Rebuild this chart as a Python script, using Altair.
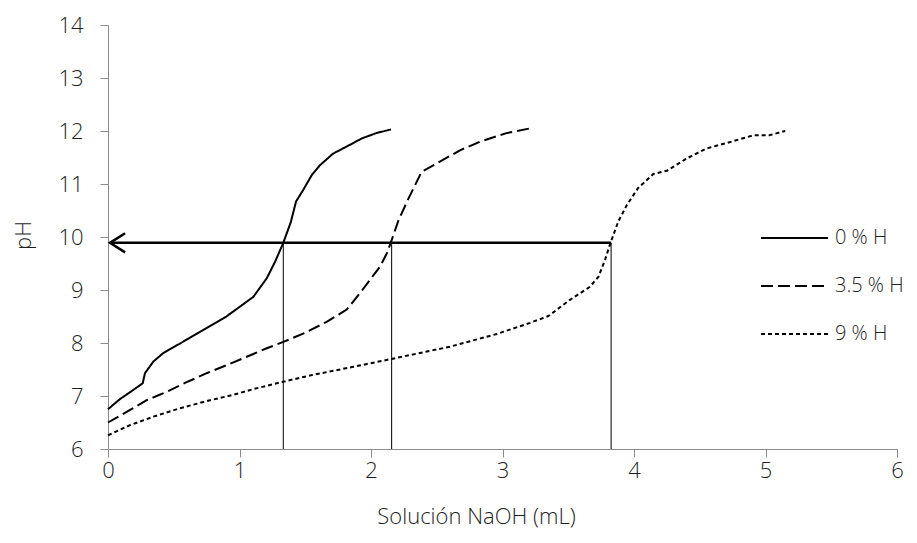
import altair as alt
import pandas as pd

series_names = ["0 % H", "3.5 % H", "9 % H"]

x_0 = [0, 0.09, 0.19, 0.264, 0.281, 0.345, 0.42, 0.548, 0.70, 0.90, 1.00, 1.105,
       1.207, 1.27, 1.333, 1.39, 1.43, 1.485, 1.55, 1.61, 1.71, 1.84, 1.93, 2.04, 2.152]
y_0 = [6.75, 6.94, 7.11, 7.24, 7.43, 7.65, 7.81, 7.99, 8.21, 8.50, 8.68, 8.87,
       9.22, 9.53, 9.89, 10.28, 10.67, 10.89, 11.17, 11.35, 11.57, 11.74, 11.86, 11.96, 12.03]

x_35 = [0, 0.142, 0.294, 0.446, 0.598, 0.75, 0.90, 1.055, 1.207, 1.333, 1.498, 1.663,
        1.815, 1.916, 2.068, 2.12, 2.157, 2.21, 2.28, 2.385, 2.50, 2.68, 2.83, 3.03, 3.21]
y_35 = [6.50, 6.70, 6.92, 7.08, 7.26, 7.43, 7.58, 7.74, 7.90, 8.02, 8.19, 8.40,
        8.63, 8.94, 9.44, 9.69, 9.94, 10.32, 10.70, 11.23, 11.39, 11.64, 11.80, 11.96, 12.05]

x_9 = [0, 0.167, 0.345, 0.548, 0.776, 0.95, 1.105, 1.333, 1.56, 1.865, 2.157, 2.60,
       2.956, 3.21, 3.35, 3.51, 3.665, 3.73, 3.78, 3.82, 3.88, 3.945, 4.03, 4.147,
       4.25, 4.40, 4.55, 4.70, 4.91, 5.03, 5.15]
y_9 = [6.26, 6.45, 6.61, 6.77, 6.92, 7.02, 7.13, 7.27, 7.40, 7.55, 7.70, 7.93,
       8.17, 8.38, 8.51, 8.81, 9.06, 9.25, 9.57, 9.88, 10.29, 10.60, 10.92, 11.19,
       11.25, 11.48, 11.67, 11.77, 11.92, 11.92, 12.00]

# annotation: pH 9.9 line and equivalence volumes
ref_ph = 9.89
eq_volumes = [1.333, 2.157, 3.826]
arrow_x = [0.13, 0.015, 0.13]
arrow_y = [10.07, 9.89, 9.71]

x_ticks = [0, 1, 2, 3, 4, 5, 6]
y_ticks = [6, 7, 8, 9, 10, 11, 12, 13, 14]

rows = []
for name, xs, ys in zip(series_names, [x_0, x_35, x_9], [y_0, y_35, y_9]):
    rows += [{"serie": name, "v": a, "pH": b} for a, b in zip(xs, ys)]
df = pd.DataFrame(rows)

df_vert = pd.DataFrame({"v": eq_volumes, "pH": [6] * len(eq_volumes),
                        "pH2": [ref_ph] * len(eq_volumes)})
df_horiz = pd.DataFrame({"v": [arrow_x[1]], "v2": [max(eq_volumes)], "pH": [ref_ph]})
df_head = pd.DataFrame({"v": arrow_x, "pH": arrow_y, "o": [0, 1, 2]})

FONT = "Open Sans"
FW = 300
FS = 22
TXT = "#1e1e1e"
AX = "#8c8c8c"

xscale = alt.Scale(domain=[0, 6], nice=False)
yscale = alt.Scale(domain=[6, 14], nice=False, zero=False)

x_axis = alt.Axis(
    title="Solución NaOH (mL)", values=x_ticks, format="d", grid=False,
    domainColor=AX, tickColor=AX, tickSize=8, labelPadding=3,
    labelFont=FONT, labelFontSize=FS, labelFontWeight=FW, labelColor=TXT,
    labelFlush=False,
    titleFont=FONT, titleFontSize=FS, titleFontWeight=FW, titleColor=TXT,
    titleX=368, titleY=67, titleAlign="center", titleBaseline="middle")
y_axis = alt.Axis(
    title="pH", values=y_ticks, format="d", grid=False,
    domainColor=AX, tickColor=AX, tickSize=8, labelPadding=17,
    labelFont=FONT, labelFontSize=FS, labelFontWeight=FW, labelColor=TXT,
    titleFont=FONT, titleFontSize=FS, titleFontWeight=FW, titleColor=TXT,
    titleX=-85, titleY=210, titleAngle=270, titleAlign="center",
    titleBaseline="middle")

X = alt.X("v:Q", scale=xscale, axis=x_axis)
Y = alt.Y("pH:Q", scale=yscale, axis=y_axis)

curves = alt.Chart(df).mark_line(color="black", strokeWidth=2).encode(
    x=X, y=Y,
    strokeDash=alt.StrokeDash("serie:N", scale=alt.Scale(
        domain=series_names, range=[[1, 0], [12, 5], [4, 3]]),
        legend=alt.Legend(title=None, orient="none", legendX=652, legendY=193,
                          symbolType="stroke", symbolSize=4489, symbolStrokeWidth=2,
                          symbolStrokeColor="black", clipHeight=40, rowPadding=8,
                          labelFont=FONT, labelFontSize=20, labelFontWeight=FW,
                          labelColor=TXT, labelOffset=6, padding=0)),
)

vert = alt.Chart(df_vert).mark_rule(color="black", strokeWidth=1).encode(
    x=X, y=Y, y2="pH2:Q",
)

horiz = alt.Chart(df_horiz).mark_rule(color="black", strokeWidth=2.5).encode(
    x=X, x2="v2:Q", y=Y,
)

head = alt.Chart(df_head).mark_line(color="black", strokeWidth=2.5).encode(
    x=X, y=Y, order="o:Q",
)

chart = alt.layer(curves, vert, horiz, head).properties(
    width=789, height=424,
    autosize=alt.AutoSizeParams(type="none"),
    padding={"left": 100, "top": 17, "right": 12, "bottom": 86},
    background="white",
).configure_view(stroke=None)

chart.save("out.html", embed_options={"renderer": "svg", "actions": False})
